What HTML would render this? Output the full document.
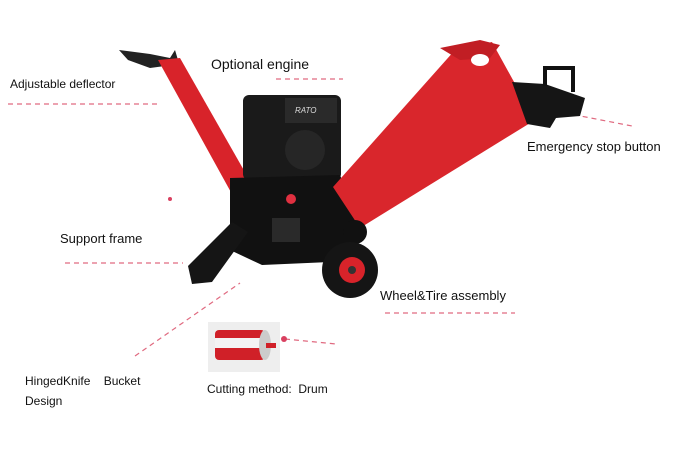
<!DOCTYPE html>
<html><head><meta charset="utf-8"><style>
html,body{margin:0;padding:0;background:#fff;}
body{width:688px;height:455px;position:relative;overflow:hidden;font-family:"Liberation Sans",sans-serif;color:#111;}
.t{position:absolute;white-space:pre;}
</style></head><body>
<svg width="688" height="455" style="position:absolute;left:0;top:0">
<g stroke="#e06a80" stroke-width="1.2" stroke-dasharray="5,4" fill="none">
<line x1="8" y1="104" x2="160" y2="104"/>
<line x1="276" y1="79" x2="343" y2="79"/>
<line x1="565" y1="113" x2="632" y2="126"/>
<line x1="65" y1="263" x2="183" y2="263"/>
<line x1="385" y1="313" x2="515" y2="313"/>
<line x1="135" y1="356" x2="240" y2="283"/>
<line x1="285" y1="339" x2="336" y2="344"/>
</g>
<circle cx="170" cy="199" r="2" fill="#d94060"/>
<circle cx="284" cy="339" r="3" fill="#d94060"/>
<!-- deflector -->
<polygon points="119,50 150,54 170,58 175,50 178,60 165,66 150,68 128,60" fill="#222"/>
<polygon points="158,60 180,58 258,195 238,205" fill="#d8232a"/>
<!-- engine -->
<rect x="243" y="95" width="98" height="85" rx="6" fill="#1a1a1a"/>
<rect x="285" y="98" width="52" height="25" fill="#2a2a2a"/>
<text x="295" y="113" font-size="8" fill="#ddd" font-family="Liberation Sans" font-style="italic">RATO</text>
<circle cx="305" cy="150" r="20" fill="#262626"/>
<!-- frame -->
<polygon points="230,178 340,175 362,230 330,262 262,265 230,250" fill="#111"/>
<polygon points="232,222 248,232 212,282 192,284 188,266" fill="#151515"/>
<circle cx="291" cy="199" r="5" fill="#e03040"/>
<rect x="272" y="218" width="28" height="24" fill="#2a2a2a"/>
<!-- hopper -->
<polygon points="333,187 455,50 492,42 535,120 360,228" fill="#d9262c"/>
<polygon points="440,48 480,40 500,45 490,58 460,60" fill="#c11e24"/>
<ellipse cx="480" cy="60" rx="9" ry="6" fill="#fff"/>
<polygon points="512,82 545,84 585,98 580,116 556,118 550,128 527,124" fill="#151515"/>
<path d="M545,86 L545,68 L573,68 L573,92" fill="none" stroke="#111" stroke-width="4"/>
<!-- wheel -->
<circle cx="355" cy="232" r="12" fill="#111"/>
<circle cx="350" cy="270" r="28" fill="#151515"/>
<circle cx="352" cy="270" r="13" fill="#d8232a"/>
<circle cx="352" cy="270" r="4" fill="#333"/>
<!-- drum -->
<rect x="208" y="322" width="72" height="50" fill="#eee"/>
<rect x="215" y="330" width="50" height="30" rx="4" fill="#d02028"/>
<rect x="215" y="338" width="50" height="10" fill="#f3f3f3"/>
<ellipse cx="265" cy="345" rx="6" ry="15" fill="#ccc"/>
<rect x="266" y="343" width="10" height="5" fill="#d02028"/>
</svg>
<div class="t" style="left:10px;top:77px;font-size:12px">Adjustable deflector</div>
<div class="t" style="left:211px;top:56px;font-size:14px">Optional engine</div>
<div class="t" style="left:527px;top:139px;font-size:13px">Emergency stop button</div>
<div class="t" style="left:60px;top:231px;font-size:13px">Support frame</div>
<div class="t" style="left:380px;top:288px;font-size:13px">Wheel&amp;Tire assembly</div>
<div class="t" style="left:25px;top:374px;font-size:12px">HingedKnife    Bucket</div>
<div class="t" style="left:25px;top:394px;font-size:12px">Design</div>
<div class="t" style="left:207px;top:382px;font-size:12px">Cutting method:  Drum</div>
</body></html>
